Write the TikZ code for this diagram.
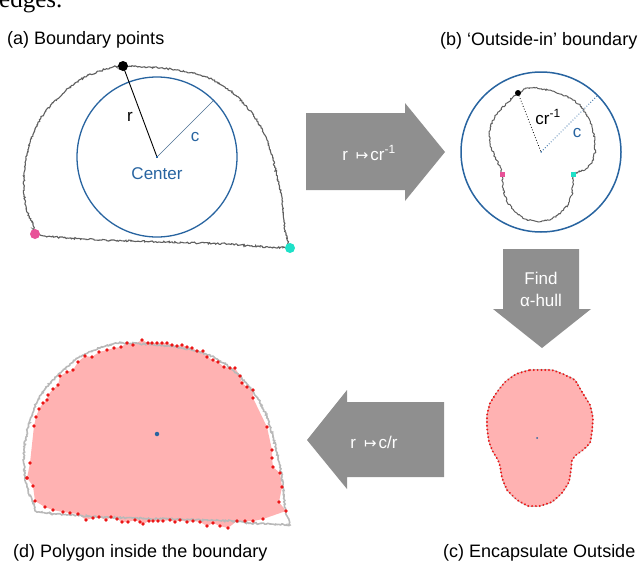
\documentclass[tikz,border=0pt]{standalone}
\usepackage{fontspec}
\setmainfont{Liberation Sans}
\newfontfamily\serifft{Liberation Serif}
\newfontfamily\dejavu{DejaVu Sans}
\usetikzlibrary{decorations.pathmorphing,decorations.markings}
\definecolor{cblue}{RGB}{40,100,160}
\definecolor{arrowgray}{RGB}{143,143,143}
\definecolor{bgray}{RGB}{95,95,95}
\definecolor{lgray}{RGB}{185,185,185}
\definecolor{pinkfill}{RGB}{255,178,178}
\definecolor{dotred}{RGB}{236,22,22}
\definecolor{hotpink}{RGB}{232,82,152}
\definecolor{cyanp}{RGB}{30,225,200}
\tikzset{
  title/.style={inner sep=0pt, anchor=base west, font=\fontsize{18}{20}\selectfont},
  lbl/.style={inner sep=0pt, font=\fontsize{17}{20}\selectfont},
  arrtxt/.style={inner sep=0pt, text=white, font=\fontsize{17}{22}\selectfont, align=center},
  bigarrow/.style={fill=arrowgray, draw=none},
  rough/.style={decorate, decoration={random steps, segment length=1.3pt, amplitude=0.85pt}},
  bigdot/.style={circle, inner sep=0pt, minimum size=10pt},
  sqdot/.style={rectangle, inner sep=0pt, minimum size=5pt},
}
\begin{document}
\begin{tikzpicture}[x=1pt,y=-1pt]
\useasboundingbox (0,0) rectangle (640,562);

% cut-off text at top
\node[inner sep=0pt, anchor=base west, font=\serifft\fontsize{25}{28}\selectfont] (edg) at (-1,7) {edges.};

% titles
\node[title] (ta) at (7,44) {(a) Boundary points};
\node[title] (tb) at (440,45) {(b) ‘Outside-in’ boundary};
\node[title] (tc) at (443,557) {(c) Encapsulate Outside};
\node[title] (td) at (13,557) {(d) Polygon inside the boundary};

% ---------- (d) polygon fill ----------
\def\dlist{27/478, 33/486, 35/501, 45/507, 53/510, 63/512, 70/513, 78/514, 86/520, 93/518, 99/517, 106/520, 111/517, 117/519, 122/522, 128/522, 135/520, 140/522, 143/524, 149/521, 153/521, 158/521, 163/521, 170/520, 175/522, 180/520, 187/522, 193/521, 200/522, 207/526, 213/523, 220/526, 228/528, 237/521, 245/521, 253/521, 263/519, 286/511, 279/502, 282/487, 280/473, 273/467, 272/458, 272/450, 267/427, 253/398, 253/390, 247/387, 242/383, 240/376, 235/368, 230/368, 224/367, 218/362, 213/360, 207/357, 203/351, 197/351, 192/348, 187/347, 182/345, 177/346, 172/345, 167/343, 162/343, 157/343, 152/343, 148/343, 142/340, 133/345, 127/343, 121/347, 114/348, 107/350, 99/352, 92/357, 85/356, 78/362, 73/370, 67/372, 60/376, 58/385, 53/389, 48/395, 47/400, 43/403, 39/409, 36/417, 34/426, 30/463}
\fill[pinkfill] (27,478) \foreach \x/\y in \dlist {-- (\x,\y)} -- cycle;

% ---------- boundaries (a) and (d) ----------
\foreach \dy/\col/\lw in {0/bgray/1.1, 277/lgray/1.6}{
\draw[\col, line width=\lw, rough, shift={(0,\dy)}]
  plot[smooth, tension=0.55] coordinates {(35,234) (33,225) (28,213) (25,200) (24,187) (24,173) (26,160) (30,143) (36,127) (45,112) (57,99) (70,87) (85,77) (100,71) (113,67) (123,66) (143,67) (160,68) (177,70) (200,75) (217,82) (233,93) (247,107) (258,122) (267,140) (273,160) (278,180) (282,200) (284,220) (286,235) (290,248)}
  -- (270,247) -- (250,246) -- (233,244) -- (200,243) -- (167,242) -- (133,241) -- (100,240) -- (67,238) -- (45,236) -- (35,234);
}

% (d) red dots and center
\foreach \x/\y in \dlist {\fill[dotred] (\x,\y) circle (1.8);}
\fill[dotred] (27,478) circle (1.8);
\node[circle, fill=cblue, inner sep=0pt, minimum size=4.5pt] (cd) at (157,434) {};

% ---------- (a) ----------
\coordinate (ca) at (157,157);
\draw[cblue, line width=1.3] (ca) circle (80);
\coordinate (ce) at (213.6,100.4);
\draw[cblue!60!gray, line width=0.5] (ca) -- (ce);
\node[bigdot, fill=black] (blk) at (123,66) {};
\node[bigdot, fill=hotpink] (pk) at (35,234) {};
\node[bigdot, fill=cyanp] (cy) at (290,248) {};
\draw[black, line width=0.9] (blk.center) -- (ca);
\node[rectangle, fill=cblue, inner sep=0pt, minimum size=2.5pt] (cdot) at (ca) {};
\node[lbl] (rl) at (130,117) {r};
\node[lbl, text=cblue] (cl) at (195,137) {c};
\node[lbl, text=cblue] (ctr) at (157,174) {Center};

% ---------- arrow 1 ----------
\fill[bigarrow] (306,113) -- (405,113) -- (405,103) -- (445,152) -- (405,201) -- (405,190) -- (306,190) -- cycle;
\node[arrtxt] (a1) at (369,153) {r\hspace{8pt}{\dejavu\fontsize{15}{17}\selectfont ↦}\hspace{2pt}cr\textsuperscript{-1}};

% ---------- (b) ----------
\coordinate (cb) at (541,152);
\draw[cblue, line width=1.5] (cb) circle (80);
\draw[bgray, line width=1.0, rough, line join=round]
  (518,93) -- (525,89) -- (535,88) -- (548,90) -- (560,94) -- (572,99) -- (580,105) -- (587,115) -- (592,127) -- (595,140) -- (595,153) -- (592,163) -- (585,170) -- (578,172) -- (573,174) -- (573,183) -- (572,195) -- (568,205) -- (560,214) -- (550,220) -- (538,222) -- (525,219) -- (515,212) -- (507,202) -- (503,190) -- (502,174) -- (500,167) -- (495,157) -- (490,145) -- (489,133) -- (492,122) -- (498,112) -- (507,103) -- (513,97) -- (518,93);
\coordinate (ceb) at (597,96);
\node[circle, fill=black, inner sep=0pt, minimum size=6pt] (bk2) at (518,93) {};
\draw[black, dotted, line width=0.8] (bk2.center) -- (cb);
\draw[cblue, dotted, line width=0.8] (cb) -- (ceb);
\node[sqdot, fill=hotpink] (pk2) at (502,174) {};
\node[sqdot, fill=cyanp] (cy2) at (573,174) {};
\node[circle, fill=cblue, inner sep=0pt, minimum size=1.5pt] (cbd) at (cb) {};
\node[lbl] (crl) at (548,117) {cr\textsuperscript{-1}};
\node[lbl, text=cblue] (cl2) at (577,133) {c};

% ---------- arrow 2 ----------
\fill[bigarrow] (503,249) -- (579,249) -- (579,309) -- (591,309) -- (542,348) -- (493,309) -- (503,309) -- cycle;
\node[arrtxt] (a2) at (541,289) {Find\\α-hull};

% ---------- (c) ----------
\fill[pinkfill, draw=gray!70, line width=0.4]
  plot[smooth cycle, tension=0.55] coordinates {(530,370) (552,370) (563,374) (575,380) (582,392) (590,405) (593,418) (592,432) (590,443) (583,450) (576,455) (572,460) (571,470) (569,482) (562,493) (552,502) (540,506) (528,506) (517,500) (507,490) (502,478) (500,466) (498,460) (493,452) (489,442) (487,428) (487,415) (490,403) (497,392) (505,382) (516,374)};
\path[decorate, decoration={markings, mark=between positions 0 and 1 step 3.8pt with {\fill[dotred] (0,0) circle (1.1);}}]
  (530,370) -- (552,370) -- (563,374) -- (575,380) -- (582,392) -- (590,405) -- (593,418) -- (592,432) -- (590,443) -- (583,450) -- (576,455) -- (572,460) -- (571,470) -- (569,482) -- (562,493) -- (552,502) -- (540,506) -- (528,506) -- (517,500) -- (507,490) -- (502,478) -- (500,466) -- (498,460) -- (493,452) -- (489,442) -- (487,428) -- (487,415) -- (490,403) -- (497,392) -- (505,382) -- (516,374) -- (530,370);
\node[circle, fill=cblue, inner sep=0pt, minimum size=2pt] (ccd) at (537,438) {};

% ---------- arrow 3 ----------
\fill[bigarrow] (444,402) -- (347,402) -- (347,390) -- (307,440) -- (347,489) -- (347,477) -- (444,477) -- cycle;
\node[arrtxt] (a3) at (374,442) {r\hspace{8pt}{\dejavu\fontsize{15}{17}\selectfont ↦}\hspace{2pt}c/r};
\end{tikzpicture}
\end{document}
